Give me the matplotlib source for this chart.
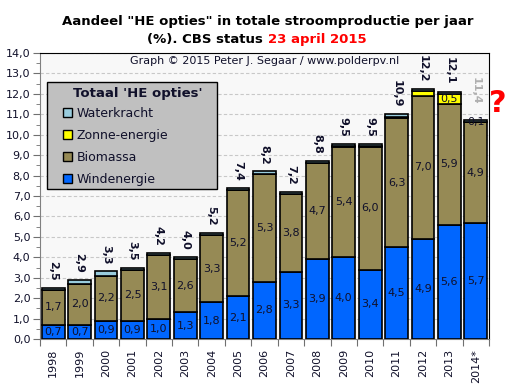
import matplotlib
matplotlib.use("Agg")
import matplotlib.pyplot as plt
import numpy as np
from matplotlib.patches import Patch, Rectangle
from matplotlib.ticker import MultipleLocator, FixedLocator, NullFormatter

years = ["1998", "1999", "2000", "2001", "2002", "2003", "2004", "2005", "2006",
         "2007", "2008", "2009", "2010", "2011", "2012", "2013", "2014*"]
wind = [0.7, 0.7, 0.9, 0.9, 1.0, 1.3, 1.8, 2.1, 2.8, 3.3, 3.9, 4.0, 3.4, 4.5, 4.9, 5.6, 5.7]
biomassa = [1.7, 2.0, 2.2, 2.5, 3.1, 2.6, 3.3, 5.2, 5.3, 3.8, 4.7, 5.4, 6.0, 6.3, 7.0, 5.9, 4.9]
zon = [0.0, 0.0, 0.0, 0.0, 0.0, 0.0, 0.0, 0.0, 0.0, 0.0, 0.02, 0.03, 0.06, 0.09, 0.22, 0.5, 0.0]
water = [0.1, 0.17, 0.22, 0.1, 0.1, 0.1, 0.1, 0.1, 0.1, 0.1, 0.1, 0.1, 0.1, 0.1, 0.1, 0.1, 0.1]
totals = ["2,5", "2,9", "3,3", "3,5", "4,2", "4,0", "5,2", "7,4", "8,2", "7,2", "8,8",
          "9,5", "9,5", "10,9", "12,2", "12,1", "11,4"]

c_wind = "#0066FF"
c_bio = "#968A55"
c_zon = "#FFFF00"
c_water = "#99CCDD"
txt = "#10102a"

W, H = 515, 386
fig = plt.figure(figsize=(W / 100, H / 100), dpi=100)
ax = fig.add_axes([40/W, 1-339/H, 449/W, 286/H])
ax.set_facecolor("#F8F8F8")

x = np.arange(len(years))
w = 0.86
wind_a = np.array(wind); bio_a = np.array(biomassa); zon_a = np.array(zon); water_a = np.array(water)
kw = dict(width=w, edgecolor="black", linewidth=1.2, zorder=3)
ax.bar(x, wind_a, color=c_wind, **kw)
ax.bar(x, bio_a, bottom=wind_a, color=c_bio, **kw)
ax.bar(x, zon_a, bottom=wind_a + bio_a, color=c_zon, **kw)
ax.bar(x, water_a, bottom=wind_a + bio_a + zon_a, color=c_water, **kw)

fs = 8
for i in range(len(years)):
    ax.text(x[i], wind_a[i] / 2, f"{wind[i]:.1f}".replace(".", ","), ha="center", va="center",
            fontsize=fs, color=txt, zorder=5)
    ax.text(x[i], wind_a[i] + bio_a[i] / 2, f"{biomassa[i]:.1f}".replace(".", ","), ha="center",
            va="center", fontsize=fs, color=txt, zorder=5)
    top = wind_a[i] + bio_a[i] + zon_a[i] + water_a[i]
    is_est = years[i].endswith("*")
    ax.text(x[i], (top + 0.35) if not is_est else 11.45, totals[i], rotation=270, ha="center",
            va="bottom", fontsize=fs, fontweight="bold",
            color="#B0B0B0" if is_est else txt, zorder=5)

# extra labels
i13 = years.index("2013")
ax.text(x[i13], wind_a[i13] + bio_a[i13] + zon_a[i13] / 2, "0,5", ha="center", va="center",
        fontsize=fs, color=txt, zorder=5)
i14 = years.index("2014*")
ax.text(x[i14], wind_a[i14] + bio_a[i14] + water_a[i14] - 0.08, "0,1", ha="center", va="center",
        fontsize=fs, color=txt, zorder=5)

ax.set_xlim(-0.5, len(years) - 0.5)
ax.set_ylim(0, 14)
ax.set_yticks(np.arange(0, 15, 1))
ax.set_yticklabels([f"{v:.1f}".replace(".", ",") for v in np.arange(0, 15, 1)])
ax.yaxis.set_minor_locator(MultipleLocator(0.5))
ax.tick_params(axis="y", which="major", length=5, labelsize=8, colors="#707070", labelcolor=txt, pad=2)
ax.tick_params(axis="y", which="minor", length=3, colors="#707070")

ax.xaxis.set_major_locator(FixedLocator(np.arange(-0.5, len(years), 1)))
ax.xaxis.set_major_formatter(NullFormatter())
ax.set_xticks(x, minor=True)
ax.set_xticklabels(years, minor=True, rotation=90, fontsize=8, color=txt)
ax.tick_params(axis="x", which="major", length=5, colors="#707070")
ax.tick_params(axis="x", which="minor", length=0, pad=7)

ax.grid(axis="y", which="major", linestyle=(0, (3, 2)), color="#C8C8C8", linewidth=0.8, zorder=0)
for s in ["top", "right"]:
    ax.spines[s].set_color("black")
for s in ["left", "bottom"]:
    ax.spines[s].set_color("#808080")

fig.text(0.52, 1 - 22/H, 'Aandeel "HE opties" in totale stroomproductie per jaar',
         ha="center", va="center", fontsize=9.5, fontweight="bold", color="black")
fig.text(0.52, 1 - 40/H, "(%). CBS status ", ha="right", va="center", fontsize=9.5,
         fontweight="bold", color="black")
fig.text(0.52, 1 - 40/H, "23 april 2015", ha="left", va="center", fontsize=9.5,
         fontweight="bold", color="red")
fig.text((40 + 449/2) / W, 1 - 61/H, "Graph © 2015 Peter J. Segaar / www.polderpv.nl",
         ha="center", va="center", fontsize=8, color=txt)
fig.text(498/W, 1 - 103/H, "?", ha="center", va="center", fontsize=22, fontweight="bold",
         color="red")

# legend frame (figure pixels 47..217 x, 82..189 y)
frame = Rectangle((47/W, 1 - 189/H), 170/W, 107/H, transform=fig.transFigure,
                  facecolor="#C0C0C0", edgecolor="black", linewidth=1.0, zorder=6)
fig.add_artist(frame)

handles = [Patch(facecolor=c_water, edgecolor="black", label="Waterkracht"),
           Patch(facecolor=c_zon, edgecolor="black", label="Zonne-energie"),
           Patch(facecolor=c_bio, edgecolor="black", label="Biomassa"),
           Patch(facecolor=c_wind, edgecolor="black", label="Windenergie")]
leg = fig.legend(handles=handles, loc="upper left",
                 bbox_to_anchor=(63/W, 1 - 107/H), borderaxespad=0, frameon=False,
                 fontsize=9, handlelength=0.7, handleheight=0.7, handletextpad=0.4,
                 labelspacing=0.72, borderpad=0)
for t in leg.get_texts():
    t.set_color(txt)
leg.set_zorder(7)
fig.text(138/W, 1 - 93/H, "Totaal 'HE opties'", ha="center", va="center", fontsize=9.5,
         fontweight="bold", color=txt, zorder=8)

fig.savefig("out.png", dpi=100)
